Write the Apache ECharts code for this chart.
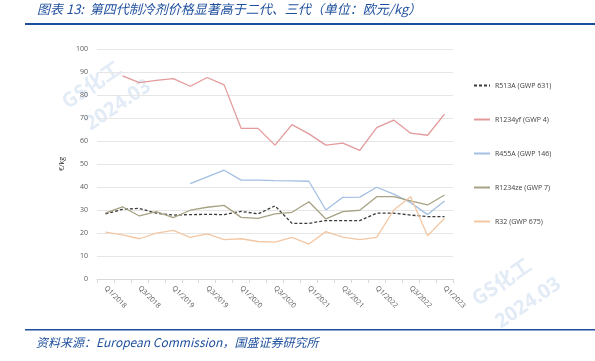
<!DOCTYPE html>
<html><head><meta charset="utf-8">
<script src="https://cdn.jsdelivr.net/npm/echarts@6/dist/echarts.min.js"></script>
<style>html,body{margin:0;padding:0;background:#fff;}#c{width:595px;height:361px;}</style>
</head><body><div id="c"></div>
<script>
var categories = ['Q1/2018','Q2/2018','Q3/2018','Q4/2018','Q1/2019','Q2/2019','Q3/2019','Q4/2019','Q1/2020','Q2/2020','Q3/2020','Q4/2020','Q1/2021','Q2/2021','Q3/2021','Q4/2021','Q1/2022','Q2/2022','Q3/2022','Q4/2022','Q1/2023'];
var r513a = [28.3,30.3,30.7,28.6,27.8,28.0,28.1,28.0,29.4,28.3,31.8,24.2,24.2,25.4,25.4,25.4,28.6,28.6,27.8,27.1,27.1];
var r1234yf = [null,88.3,85.4,86.4,87.1,83.8,87.6,84.4,65.5,65.5,58.2,67.1,63.1,58.2,59.1,55.9,65.8,69.1,63.4,62.5,71.7];
var r455a = [null,null,null,null,null,41.5,44.4,47.3,43.0,43.0,42.8,42.7,42.5,30.0,35.5,35.6,39.9,36.9,33.2,28.0,33.9];
var r1234ze = [28.6,31.4,27.4,29.3,26.7,29.9,31.2,32.0,26.8,26.4,28.3,29.0,33.6,26.1,29.3,29.9,35.8,35.8,34.0,32.2,36.5];
var r32 = [20.4,19.2,17.5,19.9,21.1,18.1,19.6,17.1,17.5,16.3,16.0,18.1,15.2,20.6,18.2,17.1,18.1,30.0,35.8,18.8,26.4];
var yTicks = {min:0, max:100, interval:10};

var blue = '#1e4f9d';
var chart = echarts.init(document.getElementById('c'));
function s(name, data, color, type){
  return {name:name, type:'line', data:data, symbol:'none', connectNulls:false,
    lineStyle:{color:color, width:1.3, type:type||'solid'}, itemStyle:{color:color}};
}
chart.setOption({
  animation:false,
  grid:{left:97, right:142, top:49, bottom:82},
  xAxis:{type:'category', data:categories, boundaryGap:true,
    axisLine:{lineStyle:{color:'#d9d9d9'}},
    axisTick:{show:true, interval:0, length:4, lineStyle:{color:'#d9d9d9'}},
    axisLabel:{interval:1, rotate:-45, fontSize:7, color:'#595959', margin:8, fontFamily:'Open Sans'}},
  yAxis:{type:'value', min:yTicks.min, max:yTicks.max, interval:yTicks.interval,
    name:'€/kg', nameLocation:'middle', nameGap:26, nameRotate:90,
    nameTextStyle:{fontSize:7, color:'#333', fontFamily:'Open Sans'},
    axisLine:{show:false}, axisTick:{show:false},
    axisLabel:{fontSize:7, color:'#595959', margin:9, fontFamily:'Open Sans'},
    splitLine:{lineStyle:{color:'#e6e6e6', width:1}}},
  legend:{orient:'vertical', left:468, top:77, itemGap:27, itemWidth:16, itemHeight:8,
    itemStyle:{opacity:0},
    textStyle:{fontSize:7, color:'#404040', fontFamily:'Open Sans'},
    data:['R513A (GWP 631)','R1234yf (GWP 4)','R455A (GWP 146)','R1234ze (GWP 7)','R32 (GWP 675)']},
  series:[
    s('R513A (GWP 631)', r513a, '#3a3a3a', [3,2]),
    s('R1234yf (GWP 4)', r1234yf, '#e39a9b'),
    s('R455A (GWP 146)', r455a, '#a3bfe2'),
    s('R1234ze (GWP 7)', r1234ze, '#a6a283'),
    s('R32 (GWP 675)', r32, '#f3c7a3')
  ],
  graphic:[
    {type:'text', left:37, top:3, style:{text:'图表 13:  第四代制冷剂价格显著高于二代、三代（单位：欧元/kg）', fill:blue, font:'italic 13px "Noto Sans CJK SC"'}},
    {type:'rect', shape:{x:25, y:23, width:570, height:2}, style:{fill:blue}},
    {type:'rect', shape:{x:25, y:329, width:570, height:1.5}, style:{fill:blue}},
    {type:'text', left:36, top:336, style:{text:'资料来源：European Commission，国盛证券研究所', fill:blue, font:'italic 12px "Noto Sans CJK SC"'}},
    {type:'text', x:58, y:95, rotation:0.6, z:-1, style:{text:'GS化工', fill:'rgba(190,210,235,0.45)', font:'bold 20px "Noto Sans CJK SC"'}},
    {type:'text', x:82, y:118, rotation:0.6, z:-1, style:{text:'2024.03', fill:'rgba(190,210,235,0.45)', font:'bold 20px "Noto Sans"'}},
    {type:'text', x:468, y:292, rotation:0.6, z:-1, style:{text:'GS化工', fill:'rgba(190,210,235,0.45)', font:'bold 20px "Noto Sans CJK SC"'}},
    {type:'text', x:492, y:316, rotation:0.6, z:-1, style:{text:'2024.03', fill:'rgba(190,210,235,0.45)', font:'bold 20px "Noto Sans"'}}
  ]
});
</script></body></html>
